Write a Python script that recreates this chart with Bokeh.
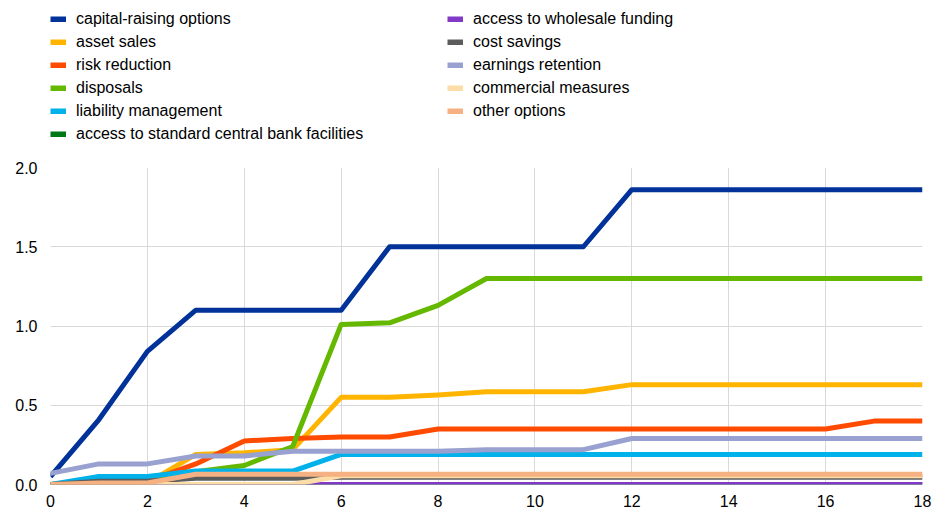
from bokeh.plotting import figure
from bokeh.layouts import column
from bokeh.models import Legend, LegendItem, Range1d, FixedTicker
from bokeh.embed import file_html
from bokeh.resources import INLINE

x = list(range(19))
capital = [0.05, 0.41, 0.84, 1.10, 1.10, 1.10, 1.10, 1.50, 1.50, 1.50, 1.50, 1.50, 1.86, 1.86, 1.86, 1.86, 1.86, 1.86, 1.86]
asset = [0.0, 0.0, 0.01, 0.19, 0.20, 0.22, 0.55, 0.55, 0.565, 0.585, 0.585, 0.585, 0.63, 0.63, 0.63, 0.63, 0.63, 0.63, 0.63]
risk = [0.0, 0.0, 0.02, 0.13, 0.275, 0.29, 0.30, 0.30, 0.35, 0.35, 0.35, 0.35, 0.35, 0.35, 0.35, 0.35, 0.35, 0.40, 0.40]
disposals = [0.0, 0.0, 0.01, 0.08, 0.12, 0.24, 1.01, 1.02, 1.13, 1.30, 1.30, 1.30, 1.30, 1.30, 1.30, 1.30, 1.30, 1.30, 1.30]
liability = [0.0, 0.05, 0.05, 0.085, 0.085, 0.085, 0.19, 0.19, 0.19, 0.19, 0.19, 0.19, 0.19, 0.19, 0.19, 0.19, 0.19, 0.19, 0.19]
central_bank = [0.0] * 19
wholesale = [0.0] * 19
cost = [0.0, 0.02, 0.02, 0.04, 0.04, 0.04, 0.045, 0.045, 0.045, 0.045, 0.045, 0.045, 0.045, 0.045, 0.045, 0.045, 0.045, 0.045, 0.045]
earnings = [0.07, 0.13, 0.13, 0.18, 0.18, 0.21, 0.21, 0.21, 0.21, 0.22, 0.22, 0.22, 0.29, 0.29, 0.29, 0.29, 0.29, 0.29, 0.29]
commercial = [0.0, 0.0, 0.0, 0.0, 0.0, 0.0, 0.055, 0.055, 0.055, 0.055, 0.055, 0.055, 0.055, 0.055, 0.055, 0.055, 0.055, 0.055, 0.055]
other = [0.0, 0.01, 0.01, 0.065, 0.065, 0.065, 0.065, 0.065, 0.065, 0.065, 0.065, 0.065, 0.065, 0.065, 0.065, 0.065, 0.065, 0.065, 0.065]

names = ["capital-raising options", "asset sales", "risk reduction", "disposals",
         "liability management", "access to standard central bank facilities",
         "access to wholesale funding", "cost savings", "earnings retention",
         "commercial measures", "other options"]
series = [capital, asset, risk, disposals, liability, central_bank, wholesale,
          cost, earnings, commercial, other]
colors = ["#003299", "#FFB400", "#FF4B00", "#65B800", "#00B1EA", "#007816",
          "#8139C6", "#5C5C5C", "#98A1D0", "#FDDDA7", "#F6B183"]

x_ticks = [0, 2, 4, 6, 8, 10, 12, 14, 16, 18]
y_ticks = [0.0, 0.5, 1.0, 1.5, 2.0]

FONT = "Liberation Sans"

# ---- main chart ----
p = figure(width=934, height=363, output_backend="svg", toolbar_location=None,
           x_range=Range1d(0, 18), y_range=Range1d(0, 2.0),
           min_border_left=50, min_border_right=12, min_border_top=17, min_border_bottom=29)
p.outline_line_color = None

for ys, c in zip(series, colors):
    p.line(x, ys, line_color=c, line_width=5, line_join="round")

for ax in (p.xaxis, p.yaxis):
    ax.axis_line_color = None
    ax.major_tick_line_color = None
    ax.minor_tick_line_color = None
    ax.major_tick_out = 0
    ax.major_tick_in = 0
    ax.minor_tick_out = 0
    ax.minor_tick_in = 0
    ax.major_label_text_font = FONT
    ax.major_label_text_font_size = "16px"
    ax.major_label_text_color = "#000000"
p.xaxis.ticker = FixedTicker(ticks=x_ticks)
p.yaxis.ticker = FixedTicker(ticks=y_ticks)
p.xaxis.major_label_overrides = {t: str(t) for t in x_ticks}
p.yaxis.major_label_overrides = {t: f"{t:.1f}" for t in y_ticks}
p.xaxis.major_label_standoff = 10
p.yaxis.major_label_standoff = 13
p.xgrid.ticker = FixedTicker(ticks=x_ticks)
p.ygrid.ticker = FixedTicker(ticks=y_ticks)
p.grid.grid_line_color = "#d9d9d9"
p.grid.grid_line_width = 1

# ---- legend strip (same series, drawn out of view; only legend shows) ----
lf = figure(width=934, height=150, output_backend="svg", toolbar_location=None,
            x_axis_type=None, y_axis_type=None, x_range=Range1d(0, 18), y_range=Range1d(10, 11),
            min_border_left=0, min_border_right=0, min_border_top=0, min_border_bottom=0)
lf.outline_line_color = None
lf.grid.visible = False
leg_r = [lf.line(x, ys, line_color=c, line_width=6) for ys, c in zip(series, colors)]

def make_legend(idx, loc):
    lg = Legend(items=[LegendItem(label=names[i], renderers=[leg_r[i]]) for i in idx],
                location=loc, orientation="vertical",
                glyph_width=16, glyph_height=6, label_height=20, label_standoff=10,
                spacing=3, padding=0, margin=0,
                label_text_font=FONT, label_text_font_size="16px",
                label_text_color="#000000",
                border_line_color=None, background_fill_alpha=0)
    lf.add_layout(lg, "center")

make_legend([0, 1, 2, 3, 4, 5], (0, 6))
make_legend([6, 7, 8, 9, 10], (397, 29))

layout = column(lf, p, spacing=0)
open("out.html", "w").write(file_html(layout, INLINE))
